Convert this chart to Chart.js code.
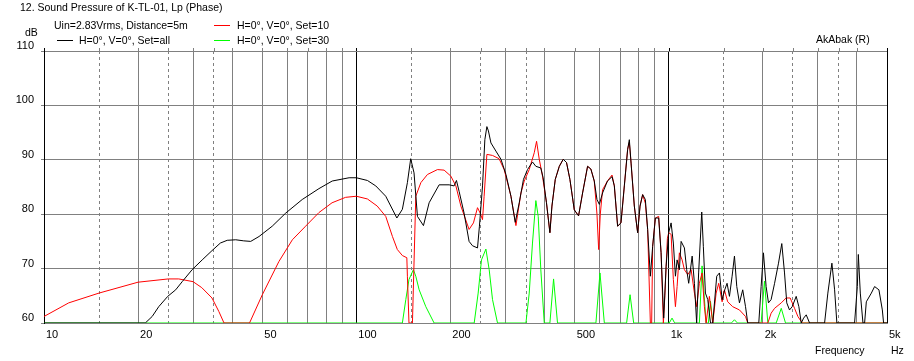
<!DOCTYPE html>
<html>
<head>
<meta charset="utf-8">
<title>12. Sound Pressure of K-TL-01</title>
<script src="https://cdn.jsdelivr.net/npm/chart.js@4.4.1/dist/chart.umd.min.js"></script>
<style>
    html, body { margin: 0; padding: 0; background: #fff; }
    #wrap { position: relative; width: 914px; height: 361px; font-family: "Liberation Sans", Arial, sans-serif; font-size: 10.5px; color: #000; }
    #wrap canvas { position: absolute; left: 0; top: 0; }
    .lbl { position: absolute; line-height: 13px; white-space: nowrap; }
    .swatch { position: absolute; width: 16px; height: 1px; }
</style>
</head>
<body>
<div id="wrap">
    <canvas id="splChart" width="914" height="361"></canvas>
    <div class="lbl" style="left:20px;top:1px">12. Sound Pressure of K-TL-01, Lp (Phase)</div>
    <div class="lbl" style="left:54px;top:19px">Uin=2.83Vrms, Distance=5m</div>
    <div class="lbl" style="left:25px;top:26px">dB</div>
    <div class="swatch" style="left:57px;top:40px;background-color:#000000"></div>
    <div class="lbl" style="left:79px;top:34px">H=0°, V=0°, Set=all</div>
    <div class="swatch" style="left:214px;top:25px;background-color:#ff0000"></div>
    <div class="lbl" style="left:237px;top:19px">H=0°, V=0°, Set=10</div>
    <div class="swatch" style="left:214px;top:40px;background-color:#00ff00"></div>
    <div class="lbl" style="left:237px;top:34px">H=0°, V=0°, Set=30</div>
    <div class="lbl" style="left:816px;top:33px">AkAbak (R)</div>
    <div class="lbl" style="left:815px;top:344px">Frequency</div>
    <div class="lbl" style="left:891px;top:344px">Hz</div>
</div>
<script>
(function () {
    "use strict";

    // axis ticks / labels
    const xTicks = [10, 15, 20, 25, 30, 35, 40, 50, 60, 70, 80, 90,
        100, 150, 200, 250, 300, 350, 400, 500, 600, 700, 800, 900,
        1000, 1500, 2000, 2500, 3000, 3500, 4000, 5000];
    const xLabels = { 10: "10", 20: "20", 50: "50", 100: "100", 200: "200", 500: "500", 1000: "1k", 2000: "2k", 5000: "5k" };
    const dashedTicks = [15, 25, 35, 150, 250, 350, 1500, 2500, 3500];
    const darkTicks = [10, 100, 1000, 5000];
    const yTicks = [60, 70, 80, 90, 100, 110];

    // H=0°, V=0°, Set=all
    const allFreq = [10, 21.1, 22.2, 23.3, 24.9, 26.4, 27.7, 29.8, 32.1, 34.5, 36.7, 38.6, 41.1, 43.6, 45.9, 48.8,
        53.8, 59.4, 67.1, 75.9, 83.7, 94.8, 100, 108.5, 115.4, 124.2, 134.8, 140.4, 145.7, 149.3, 153, 156.9,
        164, 171, 184.1, 198.2, 205.6, 209.2, 213.3, 221.3, 229.6, 235.5, 244.3, 247.8, 253.5, 257.9, 261.8, 264.8,
        269.7, 279.8, 290.4, 301.3, 312.6, 322.7, 332.3, 342.8, 353.2, 366.4, 375.6, 389.6, 396.3, 406.2, 416.6, 422.9,
        433.4, 446.5, 459.6, 470.9, 482.8, 498.6, 514.6, 530.1, 550, 563.5, 577.8, 589.4, 599.8, 614.2, 636.8, 658.6,
        669.9, 686.3, 703.5, 721.1, 739, 748.2, 757.8, 776.2, 795.4, 809.6, 825.4, 842, 856.4, 873.6, 888.6, 906.5,
        928.9, 945.5, 963.9, 981.1, 1000, 1018, 1035, 1051, 1064, 1082, 1096, 1123, 1142, 1159, 1189, 1209,
        1229, 1247, 1276, 1291, 1311, 1334, 1361, 1384, 1425, 1454, 1483, 1512, 1538, 1565, 1596, 1624,
        1652, 1685, 1726, 1762, 1791, 1943, 1977, 2011, 2051, 2087, 2128, 2183, 2247, 2302, 2349, 2388,
        2437, 2486, 2560, 2611, 2657, 2704, 2757, 2825, 3156, 3233, 3331, 3398, 3455, 3937, 4018, 4047,
        4107, 4188, 4239, 4293, 4455, 4563, 4711, 4831, 4876, 5000];
    const allDb = [60, 60, 61.2, 63.0, 64.9, 66.1, 67.6, 69.8, 71.6, 73.3, 74.7, 75.2, 75.3, 75.1, 75.0, 75.9,
        77.8, 80.2, 82.7, 84.7, 86.1, 86.7, 86.7, 86.2, 85.2, 83.3, 79.3, 80.9, 85.8, 90.2, 87.6, 79.6,
        77.9, 82.1, 85.4, 85.4, 85.2, 86.2, 84.2, 80.2, 75.0, 74.2, 73.8, 77.8, 85.2, 93.7, 96.1, 95.3,
        93.1, 91.6, 90.1, 87.3, 83.3, 78.5, 82.1, 86.4, 88.2, 89.6, 88.8, 88.5, 86.7, 82.1, 76.6, 81.5,
        86.4, 88.8, 90.1, 89.5, 86.4, 80.8, 79.7, 83.9, 88.8, 88.3, 86.1, 82.7, 81.8, 83.9, 86.1, 86.9,
        85.2, 77.8, 78.4, 85.2, 91.9, 93.7, 89.4, 81.5, 76.6, 81.5, 83.6, 82.7, 77.2, 68.6, 74.1, 79.3,
        79.3, 72.9, 60.9, 70.4, 76.6, 78.4, 74.7, 68.6, 71.6, 69.8, 75.0, 73.8, 69.8, 67.3, 72.3, 67.3,
        60, 69.2, 80.4, 74.1, 65.5, 64.3, 60, 60, 68.6, 69.2, 64.3, 66.1, 67.3, 64.9, 68.6, 72.3,
        66.7, 63.7, 66.1, 63.0, 60, 60, 66.7, 72.9, 66.7, 63.7, 64.3, 67.3, 71.0, 74.6, 69.2, 63.7,
        62.4, 63.0, 64.9, 63.0, 60, 60.9, 61.5, 60, 60, 65.5, 71.0, 66.1, 60, 60, 66.7, 72.6,
        65.5, 60, 60, 63.9, 65.5, 66.7, 66.1, 62.4, 60, 60];

    // H=0°, V=0°, Set=10
    const set10Freq = [10, 12, 15, 20, 25, 27, 30, 32, 34.5, 36.3, 37.7, 45.5, 50, 56.5, 62.4, 68.8,
        75.9, 83.6, 92.4, 100, 108.5, 116.6, 124.2, 130.5, 135.3, 140.4, 145.1, 145.7, 147.4, 151.2, 155, 160.9,
        168.9, 181.8, 191, 200.7, 208.3, 216.1, 229.6, 237.1, 244.3, 249.2, 253.5, 256.5, 261.8, 272.9, 286.4, 297.4,
        312.6, 324.3, 336.5, 344.8, 357.7, 371.2, 377.6, 385.1, 394.5, 406.2, 416.6, 422.9, 433.4, 446.5, 459.6, 470.9,
        482.8, 498.6, 514.6, 530.1, 550, 563.5, 577.8, 589.4, 596.7, 604, 614.2, 636.8, 658.6, 669.9, 686.3, 703.5,
        721.1, 739, 748.2, 757.8, 776.2, 795.4, 809.6, 825.4, 842, 856.4, 873.6, 882.1, 888.6, 906.5, 928.9, 945.5,
        961.6, 972.2, 990.4, 1000, 1018, 1035, 1051, 1064, 1082, 1104, 1123, 1151, 1180, 1209, 1229, 1254,
        1279, 1301, 1318, 1350, 1384, 1419, 1446, 1483, 1508, 1545, 1603, 1685, 1762, 1791, 2077, 2128,
        2183, 2293, 2377, 2449, 2529, 2592, 2677, 5000];
    const set10Db = [61.2, 63.7, 65.5, 67.5, 68.1, 68.1, 67.6, 66.5, 64.6, 62.1, 60, 60, 65.2, 71.3, 75.3, 77.8,
        80.3, 82.1, 83.1, 83.3, 82.8, 81.5, 79.6, 75.9, 73.5, 72.4, 72.0, 68.6, 60, 60, 83.3, 85.8,
        87.3, 88.2, 88.1, 87.0, 85.2, 81.5, 77.2, 78.4, 81.2, 80.2, 79.0, 83.3, 91.0, 90.8, 90.2, 88.2,
        83.3, 77.9, 83.9, 86.1, 88.2, 91.3, 93.4, 90.1, 87.0, 82.1, 76.6, 81.5, 86.4, 88.8, 90.1, 89.5,
        86.4, 80.8, 79.7, 83.9, 88.8, 88.3, 86.1, 80.0, 73.5, 80.0, 84.5, 86.1, 87.2, 85.2, 77.8, 78.4,
        85.2, 92.0, 93.2, 89.4, 81.5, 76.6, 81.5, 83.6, 82.0, 77.2, 60, 60, 74.1, 79.3, 79.6, 72.9,
        60, 65.0, 75.5, 76.6, 76.3, 68.0, 63.0, 66.7, 72.9, 71.6, 69.8, 68.9, 69.8, 65.5, 63.0, 67.3,
        69.2, 63.0, 60, 64.9, 60, 65.5, 67.3, 63.9, 66.1, 63.9, 63.0, 62.4, 61.2, 60, 60, 61.8,
        62.7, 63.7, 64.6, 64.6, 62.7, 61.2, 60, 60];

    // H=0°, V=0°, Set=30
    const set30Freq = [10, 140.4, 144, 147.4, 152.3, 155, 158.9, 166.9, 177.4, 238.4, 245.5, 251.6, 259.9, 266.3, 272.9, 283.1,
        349.1, 357.7, 366.4, 375.6, 382.2, 389.6, 399.6, 416.6, 428, 440.6, 584.8, 602.6, 622.3, 733.4, 752.2, 772.6,
        1004, 1025, 1045, 1254, 1279, 1318, 1340, 1361, 1384, 1588, 1624, 1660, 1977, 2026, 2077, 2209,
        2293, 2366, 5000];
    const set30Db = [60, 60, 64.3, 68.0, 69.8, 68.6, 66.1, 63.0, 60, 60, 65.5, 71.6, 73.6, 69.8, 64.3, 60,
        60, 65.5, 74.7, 82.5, 79.6, 69.8, 60, 60, 68.1, 60, 60, 69.2, 60, 60, 65.2, 60,
        60, 60.9, 60, 60, 70.5, 60, 60, 64.0, 60, 60, 60.6, 60, 60, 67.7, 60, 60,
        62.7, 60, 60];

    const COLORS = {
        all: "#000000",
        set10: "#ff0000",
        set30: "#00ff00",
        grid: "#808080"
    };

    function points(freq, db) {
        return freq.map((f, i) => ({ x: f, y: db[i] }));
    }

    function series(label, freq, db, color) {
        return {
            label: label,
            data: points(freq, db),
            borderColor: color,
            backgroundColor: color,
            borderWidth: 1,
            pointRadius: 0,
            tension: 0,
            fill: false
        };
    }

    // short tick stubs above the top edge, like the original plot frame
    const topTicks = {
        id: "topTicks",
        afterDraw(chart) {
            const { ctx, chartArea, scales } = chart;
            ctx.save();
            ctx.lineWidth = 1;
            xTicks.forEach(v => {
                const x = Math.round(scales.x.getPixelForValue(v)) + 0.5;
                ctx.strokeStyle = darkTicks.includes(v) ? "#000" : COLORS.grid;
                ctx.beginPath();
                ctx.moveTo(x, chartArea.top - 3);
                ctx.lineTo(x, chartArea.top);
                ctx.stroke();
            });
            ctx.restore();
        }
    };

    Chart.defaults.font.family = "'Liberation Sans', Arial, sans-serif";
    Chart.defaults.font.size = 11;
    Chart.defaults.color = "#000";

    // dataset 0 is painted last, so black sits on top, then red, then green
    new Chart(document.getElementById("splChart"), {
        type: "line",
        data: {
            datasets: [
                series("H=0°, V=0°, Set=all", allFreq, allDb, COLORS.all),
                series("H=0°, V=0°, Set=10", set10Freq, set10Db, COLORS.set10),
                series("H=0°, V=0°, Set=30", set30Freq, set30Db, COLORS.set30)
            ]
        },
        options: {
            responsive: false,
            animation: false,
            devicePixelRatio: 1,
            layout: { padding: { top: 51, right: 27, left: 0, bottom: 0 } },
            plugins: {
                legend: { display: false },
                tooltip: { enabled: false }
            },
            scales: {
                x: {
                    type: "logarithmic",
                    min: 10,
                    max: 5000,
                    afterBuildTicks: scale => { scale.ticks = xTicks.map(v => ({ value: v })); },
                    afterFit: scale => { scale.height = 38; },
                    grid: {
                        drawTicks: false,
                        lineWidth: 1,
                        color: ctx => (ctx.tick && darkTicks.includes(ctx.tick.value)) ? "#000" : COLORS.grid
                    },
                    border: {
                        color: COLORS.grid,
                        dash: ctx => (ctx.tick && dashedTicks.includes(ctx.tick.value)) ? [3, 3] : []
                    },
                    ticks: {
                        autoSkip: false,
                        maxRotation: 0,
                        align: "start",
                        labelOffset: 2,
                        padding: 5,
                        callback: value => xLabels[value] || ""
                    }
                },
                y: {
                    min: 60,
                    max: 110,
                    afterBuildTicks: scale => { scale.ticks = yTicks.map(v => ({ value: v })); },
                    afterFit: scale => { scale.width = 44; },
                    grid: { color: COLORS.grid, tickLength: 3, tickColor: COLORS.grid },
                    border: { color: "#000" },
                    ticks: { padding: 7, labelOffset: -5 }
                }
            }
        },
        plugins: [topTicks]
    });
})();
</script>
</body>
</html>
